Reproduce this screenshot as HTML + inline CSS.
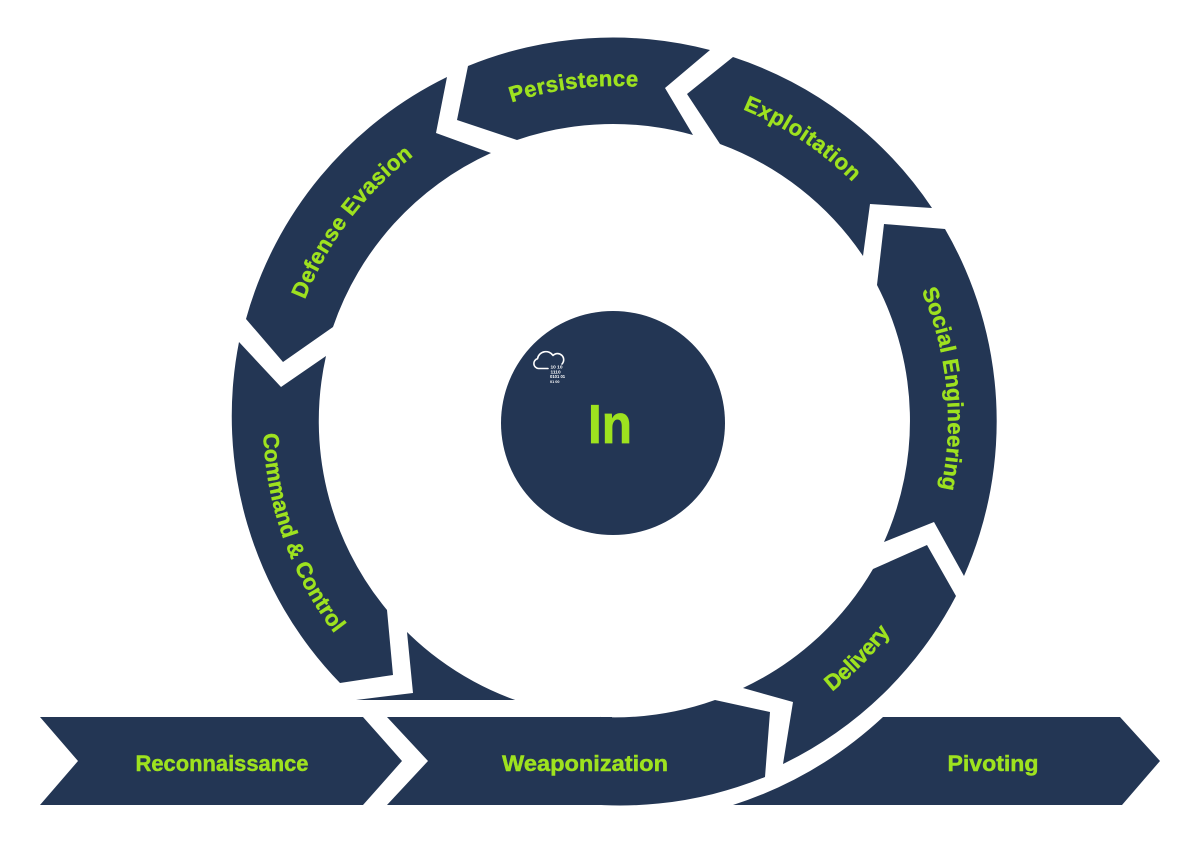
<!DOCTYPE html>
<html>
<head>
<meta charset="utf-8">
<style>
html,body{margin:0;padding:0;background:#ffffff;}
svg{display:block;}
text{font-family:"Liberation Sans",Arial,sans-serif;font-weight:bold;}
</style>
</head>
<body>
<svg width="1201" height="844" viewBox="0 0 1201 844" xmlns="http://www.w3.org/2000/svg">
  <defs>
    <path id="pP" d="M306.6 290.1 A335 335 0 0 1 882.5 219.4" fill="none"/>
    <path id="pE" d="M465.2 119.1 A337 337 0 0 1 951.3 442.2" fill="none"/>
    <path id="pS" d="M752.6 117.7 A333 333 0 0 1 808.8 691.8" fill="none"/>
    <path id="pD" d="M308.2 550.6 A333 333 0 0 1 656.2 90.6" fill="none"/>
    <path id="pC" d="M347.0 192.9 A352 352 0 0 0 551.5 767.2" fill="none"/>
    <path id="pV" d="M528.7 757.1 A347 347 0 0 0 949.2 327.7" fill="none"/>
  </defs>

  <!-- Ring segments -->
  <g fill="#233654">
    <path d="M710 50 A383 383 0 0 0 468 66 L457 120 L517 140 A296 296 0 0 1 693 135 L665 88 Z"/>
    <path d="M932 208 A383 383 0 0 0 733 57 L687 94 L720 144 A296 296 0 0 1 863 256 L870 204 Z"/>
    <path d="M964 576 A383 383 0 0 0 945 229 L884 224 L877 285 A296 296 0 0 1 884 542 L934 522 Z"/>
    <path d="M783 764 A383 383 0 0 0 956 596 L927 545 L873 569 A296 296 0 0 1 743 688 L793 702 Z"/>
    <path d="M356 700 A383 383 0 0 0 765 777 L770 712 L715 700 A296 296 0 0 1 407 632 L413 693 Z"/>
    <path d="M239 342 A383 383 0 0 0 340 683 L393 675 L387 610 A296 296 0 0 1 326 356 L281 387 Z"/>
    <path d="M447 77 A383 383 0 0 0 246 319 L283 362 L333 327 A296 296 0 0 1 491 153 L436 133 Z"/>
  </g>

  <rect x="330" y="700" width="270" height="70" fill="#ffffff"/>

  <g fill="#233654">
    <path d="M40 717 L363 717 L402 761 L363 805 L40 805 L78 761 Z"/>
    <path d="M387 717 L612 717 L612 805 L387 805 L428 761 Z"/>
    <path d="M733 805 A400 400 0 0 0 883 717 L1120 717 L1160 761 L1122 805 Z"/>
  </g>

  <circle cx="613" cy="423" r="112" fill="#233654"/>

  <path d="M548 368.5 L538.5 368.5 A5 5 0 0 1 537.5 358.7 A8.5 8.5 0 0 1 553 355.5 A5 5 0 0 1 562 364" fill="none" stroke="#ffffff" stroke-width="1.6" stroke-linecap="round" stroke-linejoin="round"/>
  <g fill="#ffffff" font-size="4.8">
    <text x="550.5" y="368.5">10 10</text>
    <text x="550.5" y="373.5">1110</text>
    <text x="550" y="378" font-size="4.2">0101 01</text>
    <text x="550" y="383" font-size="3.8">01  00</text>
  </g>

  <text x="610" y="443" font-size="55" fill="#9ee21f" stroke="#9ee21f" stroke-width="0.8" text-anchor="middle" textLength="44" lengthAdjust="spacingAndGlyphs">In</text>

  <g fill="#9ee21f" stroke="#9ee21f" stroke-width="0.45" font-size="22">
    <text x="222" y="771" text-anchor="middle" textLength="173" lengthAdjust="spacingAndGlyphs">Reconnaissance</text>
    <text x="585" y="771" text-anchor="middle" textLength="166" lengthAdjust="spacingAndGlyphs">Weaponization</text>
    <text x="993" y="771" text-anchor="middle" textLength="91" lengthAdjust="spacingAndGlyphs">Pivoting</text>
  </g>

  <g fill="#9ee21f" stroke="#9ee21f" stroke-width="0.45" font-size="22">
    <text letter-spacing="0.45"><textPath href="#pP" startOffset="50%" text-anchor="middle">Persistence</textPath></text>
    <text letter-spacing="0.6"><textPath href="#pE" startOffset="50%" text-anchor="middle">Exploitation</textPath></text>
    <text letter-spacing="0.25"><textPath href="#pS" startOffset="50%" text-anchor="middle">Social Engineering</textPath></text>
    <text letter-spacing="0.45"><textPath href="#pD" startOffset="50%" text-anchor="middle">Defense Evasion</textPath></text>
    <text letter-spacing="0.1"><textPath href="#pC" startOffset="50%" text-anchor="middle">Command &amp; Control</textPath></text>
    <text letter-spacing="-0.3"><textPath href="#pV" startOffset="50%" text-anchor="middle">Delivery</textPath></text>
  </g>
</svg>
</body>
</html>
